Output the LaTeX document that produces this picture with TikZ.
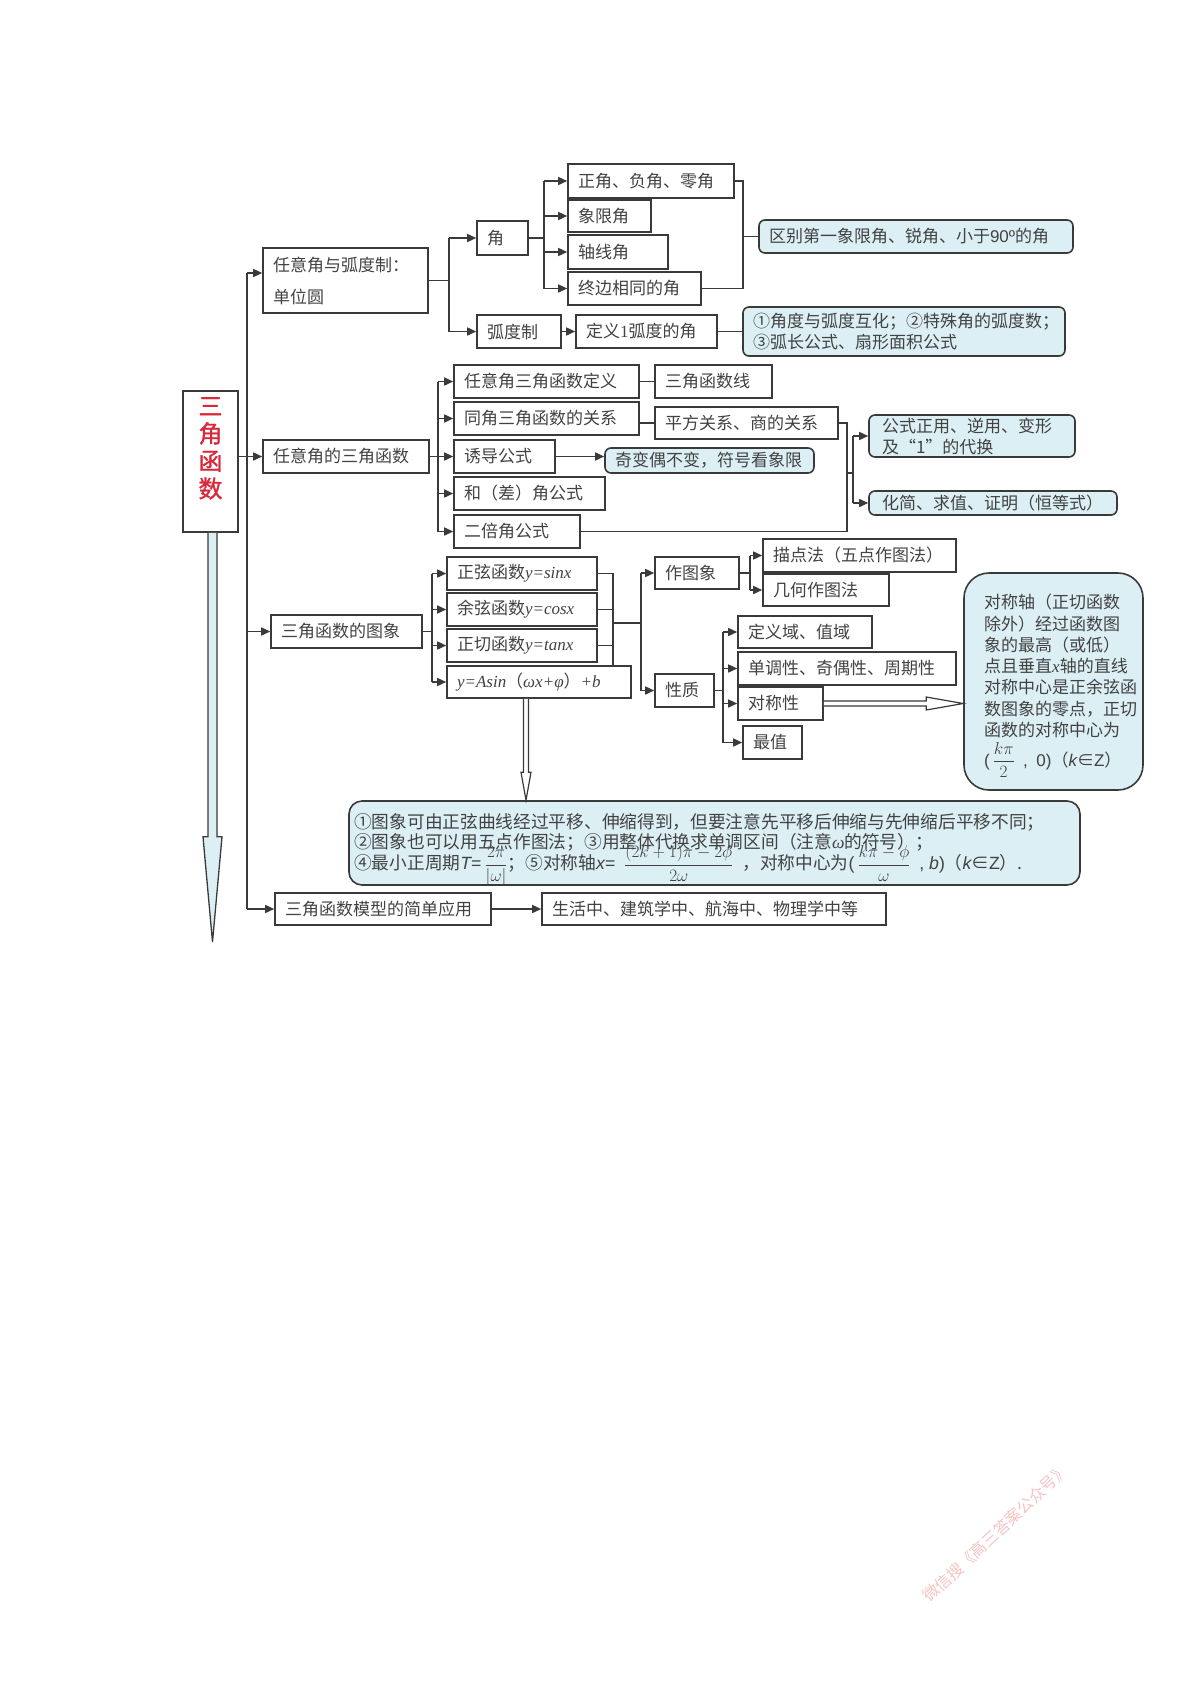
\documentclass[tikz,border=0pt]{standalone}
\usepackage{amsmath}
\usepackage{fontspec}
\setmainfont{Noto Sans CJK SC}
\newfontfamily\tnr{Liberation Serif}
\newfontfamily\ars{Liberation Sans}
\newfontfamily\cjkb[FakeBold=1.2]{Noto Sans CJK SC}
\usetikzlibrary{arrows.meta,calc}
\definecolor{bord}{HTML}{3A3A3A}
\definecolor{txtc}{HTML}{424242}
\definecolor{lblue}{HTML}{DCEFF5}
\definecolor{tred}{HTML}{D8283A}
\definecolor{wm}{HTML}{F6C4C4}
\tikzset{
  rbox/.style={draw=bord, line width=1.6pt, fill=white, inner xsep=10pt, inner ysep=0pt,
    text=txtc, font=\fontsize{17}{21}\selectfont, align=left},
  bbox/.style={rbox, fill=lblue, rounded corners=6pt},
  conn/.style={draw=bord, line width=1.5pt},
  arr/.style={conn, -{Triangle[length=9pt,width=8pt]}},
  dblarrow/.style={draw=bord, line width=1.2pt, fill=white, line join=miter},
  plain/.style={inner sep=0pt, text=txtc, font=\fontsize{17}{21.3}\selectfont, align=left},
  bigtxt/.style={plain, font=\fontsize{17.7}{20}\selectfont},
}
\newcommand\bx[7][]{%
  \pgfmathsetmacro\bxw{#5-#3}%
  \pgfmathsetmacro\bxh{#6-#4}%
  \pgfmathsetmacro\bxtw{#5-#3-20}%
  \pgfmathsetmacro\bxcx{(#3+#5)/2}%
  \pgfmathsetmacro\bxcy{(#4+#6)/2}%
  \node[rbox,#1,minimum width=\bxw pt,minimum height=\bxh pt,text width=\bxtw pt] (#2) at (\bxcx,\bxcy) {#7};%
}
\begin{document}
\begin{tikzpicture}[x=1pt,y=-1pt]
\useasboundingbox (0,0) rectangle (1200,1698);
\fill[white] (0,0) rectangle (1200,1698);

% junction coordinates
\coordinate (V) at (247,0);
\coordinate (jA) at (449,0);
\coordinate (jB) at (544,0);
\coordinate (jC) at (743,0);
\coordinate (jD) at (438,0);
\coordinate (jE) at (847,0);
\coordinate (jE2) at (853,0);
\coordinate (jF) at (432,0);
\coordinate (jG) at (613,0);
\coordinate (jH) at (641,0);
\coordinate (jI) at (750,0);
\coordinate (jJ) at (723,0);
\coordinate (dx) at (526,0);

% main box
\node[draw=bord, line width=1.6pt, fill=white, minimum width=55pt, minimum height=141pt] (M) at (210.5,461.5) {};
\node[anchor=north, inner sep=0pt, align=center, text=tred, font=\cjkb\fontsize{24}{27.5}\selectfont] (Mt) at (210.5,397) {三\\角\\函\\数};
% main down arrow
\coordinate (m1) at ($(M.south)+(2,0)$);
\coordinate (m2) at (212.5,942);
\draw[draw=bord, line width=1.3pt, fill=lblue, line join=miter]
  ($(m1)+(-4.5,0)$) -- ($(m1)+(-4.5,304)$) -- ($(m1)+(-9.5,304)$) -- (m2) -- ($(m1)+(9.5,304)$) -- ($(m1)+(4.5,304)$) -- ($(m1)+(4.5,0)$);

% ---- section A
\bx{A1}{263}{248}{428}{313}{任意角与弧度制：\\[11pt]单位圆}
\bx{A2}{477}{221}{528}{255}{角}
\bx{A3}{477}{315}{561}{348}{弧度制}
\bx{A4}{568}{164}{734}{198}{正角、负角、零角}
\bx{A5}{568}{200}{651}{232}{象限角}
\bx{A6}{568}{235}{668}{269}{轴线角}
\bx{A7}{568}{272}{701}{305}{终边相同的角}
\bx[bbox]{A8}{759}{220}{1073}{253}{区别第一象限角、锐角、小于{\ars 90º}的角}
\bx{A9}{576}{315}{717}{348}{定义{\tnr 1}弧度的角}
\bx[bbox,inner xsep=8pt]{A10}{743}{307}{1065}{356}{①角度与弧度互化；②特殊角的弧度数；\\③弧长公式、扇形面积公式}

% ---- section B
\bx{B1}{263}{440}{429}{473}{任意角的三角函数}
\bx{B2}{454}{365}{639}{398}{任意角三角函数定义}
\bx{B3}{454}{402}{639}{435}{同角三角函数的关系}
\bx{B4}{454}{440}{555}{473}{诱导公式}
\bx{B5}{454}{477}{605}{510}{和（差）角公式}
\bx{B6}{454}{515}{580}{548}{二倍角公式}
\bx{B7}{655}{365}{772}{398}{三角函数线}
\bx{B8}{655}{407}{838}{439}{平方关系、商的关系}
\bx[bbox,inner xsep=7pt]{B9}{605}{448}{814}{473}{奇变偶不变，符号看象限}
\bx[bbox,inner xsep=13pt]{B10}{872}{415}{1072}{457}{公式正用、逆用、变形\\及“1”的代换}
\bx[bbox,inner xsep=13pt]{B11}{872}{491}{1114}{515}{化简、求值、证明（恒等式）}

% ---- section C
\bx{C1}{271}{615}{422}{648}{三角函数的图象}
\bx{C2}{447}{557}{597}{590}{正弦函数{\tnr\itshape y=sinx}}
\bx{C3}{447}{593}{597}{626}{余弦函数{\tnr\itshape y=cosx}}
\bx{C4}{447}{629}{597}{662}{正切函数{\tnr\itshape y=tanx}}
\bx{C5}{447}{666}{631}{698}{{\tnr\itshape y=Asin}（{\tnr\itshape ωx+φ}）{\tnr\itshape +b}}
\bx{C6}{655}{557}{739}{589}{作图象}
\bx{C7}{655}{674}{714}{707}{性质}
\bx{C8}{763}{539}{956}{572}{描点法（五点作图法）}
\bx{C9}{763}{574}{889}{606}{几何作图法}
\bx{C10}{738}{616}{872}{648}{定义域、值域}
\bx{C11}{738}{652}{956}{685}{单调性、奇偶性、周期性}
\bx{C12}{738}{687}{823}{720}{对称性}
\bx{C13}{743}{726}{802}{759}{最值}
\node[draw=bord, line width=1.6pt, fill=lblue, rounded corners=25pt, minimum width=179pt, minimum height=217pt] (C14) at (1053.5,681.5) {};
\node[plain, anchor=north west] (C14a) at (984,594) {对称轴（正切函数\\除外）经过函数图\\象的最高（或低）\\点且垂直{\tnr\itshape x}轴的直线\\对称中心是正余弦函\\数图象的零点，正切\\函数的对称中心为};
\node[plain, anchor=base west] (C14b) at (984,766) {{\ars (}\,$\dfrac{k\pi}{2}$\enspace{\ars ,\enspace 0)}（{\ars\itshape k}∈{\ars Z}）};
\node[draw=bord, line width=1.6pt, fill=lblue, rounded corners=13pt, minimum width=731pt, minimum height=84pt] (C15) at (714.5,843) {};
\node[bigtxt, anchor=base west] (C15a) at (354,828.5) {①图象可由正弦曲线经过平移、伸缩得到，但要注意先平移后伸缩与先伸缩后平移不同；};
\node[bigtxt, anchor=base west] (C15b) at (354,848.5) {②图象也可以用五点作图法；③用整体代换求单调区间（注意{\tnr\itshape ω}的符号）；};
\node[bigtxt, anchor=base west] (C15c) at (354,869.5) {④最小正周期{\ars\itshape T}{\ars =}\,$\dfrac{2\pi}{|\omega|}$；⑤对称轴{\ars\itshape x}{\ars =}\enspace$\dfrac{(2k+1)\pi-2\phi}{2\omega}$\enspace，对称中心为{\ars (}\,$\dfrac{k\pi-\phi}{\omega}$\enspace{\ars , \itshape b}{\ars )}（{\ars\itshape k}∈{\ars Z}）.};

% ---- section D
\bx{D1}{275}{893}{491}{925}{三角函数模型的简单应用}
\bx{D2}{542}{893}{886}{925}{生活中、建筑学中、航海中、物理学中等}

% ---- connectors: main spine
\coordinate (vtop) at (247,273);
\draw[conn] (vtop) -- (V|-D1);
\draw[arr] (vtop) -- (A1.west|-vtop);
\draw[arr] (M.east|-B1) -- (B1.west);
\draw[arr] (V|-C1) -- (C1.west);
\draw[arr] (V|-D1) -- (D1.west);
\draw[arr] (D1) -- (D2);

% section A connectors
\draw[conn] (A1.east) -- (A1.east-|jA);
\draw[conn] (jA|-A2) -- (jA|-A3);
\draw[arr] (jA|-A2) -- (A2.west);
\draw[arr] (jA|-A3) -- (A3.west);
\draw[conn] (A2.east) -- (A2.east-|jB);
\draw[conn] (jB|-A4) -- (jB|-A7);
\foreach \n in {A4,A5,A6,A7} \draw[arr] (jB|-\n) -- (\n.west);
\draw[conn] (A4.east) -- (A4.east-|jC) -- (A7.east-|jC) -- (A7.east);
\draw[conn] (jC|-A8) -- (A8.west);
\draw[arr] (A3) -- (A9);
\draw[conn] (A9) -- (A10);

% section B connectors
\draw[conn] (B1.east) -- (B1.east-|jD);
\draw[conn] (jD|-B2) -- (jD|-B6);
\foreach \n in {B2,B3,B4,B5,B6} \draw[arr] (jD|-\n) -- (\n.west);
\draw[conn] (B2) -- (B7);
\draw[conn] (B3.east|-B8) -- (B8.west);
\draw[arr] (B4.east) -- (B4.east-|B9.west);
\draw[conn] (B8.east) -- (B8.east-|jE) -- (B6.east-|jE) -- (B6.east);
\coordinate (jm) at (847,473);
\draw[conn] (jm) -- (jm-|jE2);
\draw[conn] (jE2|-B10) -- (jE2|-B11);
\draw[arr] (jE2|-B10) -- (B10.west);
\draw[arr] (jE2|-B11) -- (B11.west);

% section C connectors
\draw[conn] (C1.east) -- (C1.east-|jF);
\draw[conn] (jF|-C2) -- (jF|-C5);
\foreach \n in {C2,C3,C4,C5} \draw[arr] (jF|-\n) -- (\n.west);
\draw[conn] (C2.east) -- (C2.east-|jG) -- (jG|-C5.north);
\draw[conn] (C3.east) -- (C3.east-|jG);
\draw[conn] (C4.east) -- (C4.east-|jG);
\coordinate (jg) at (613,623);
\draw[conn] (jg) -- (jg-|jH);
\draw[conn] (jH|-C6) -- (jH|-C7);
\draw[arr] (jH|-C6) -- (C6.west);
\draw[arr] (jH|-C7) -- (C7.west);
\draw[conn] (C6.east) -- (C6.east-|jI);
\draw[conn] (jI|-C8) -- (jI|-C9);
\draw[arr] (jI|-C8) -- (C8.west);
\draw[arr] (jI|-C9) -- (C9.west);
\draw[conn] (C7.east) -- (C7.east-|jJ);
\draw[conn] (jJ|-C10) -- (jJ|-C13);
\foreach \n in {C10,C11,C12,C13} \draw[arr] (jJ|-\n) -- (\n.west);

% double arrows
\coordinate (h1) at (C12.east);
\coordinate (h2) at (C14.west|-C12.east);
\draw[dblarrow] ($(h1)+(0,-2.5)$) -- ($(h2)+(-37,-2.5)$) -- ($(h2)+(-37,-6.5)$) -- (h2)
  -- ($(h2)+(-37,6.5)$) -- ($(h2)+(-37,2.5)$) -- ($(h1)+(0,2.5)$);
\coordinate (v1) at (dx|-C5.south);
\coordinate (v2) at (dx|-C15.north);
\draw[dblarrow] ($(v1)+(-2.5,0)$) -- ($(v2)+(-2.5,-28)$) -- ($(v2)+(-5,-28)$) -- (v2)
  -- ($(v2)+(5,-28)$) -- ($(v2)+(2.5,-28)$) -- ($(v1)+(2.5,0)$);

% watermark
\node[rotate=43, text=wm, inner sep=0pt, font=\fontsize{16}{16}\selectfont] (wmk) at (996,1533) {微信搜《高三答案公众号》};
\end{tikzpicture}
\end{document}
